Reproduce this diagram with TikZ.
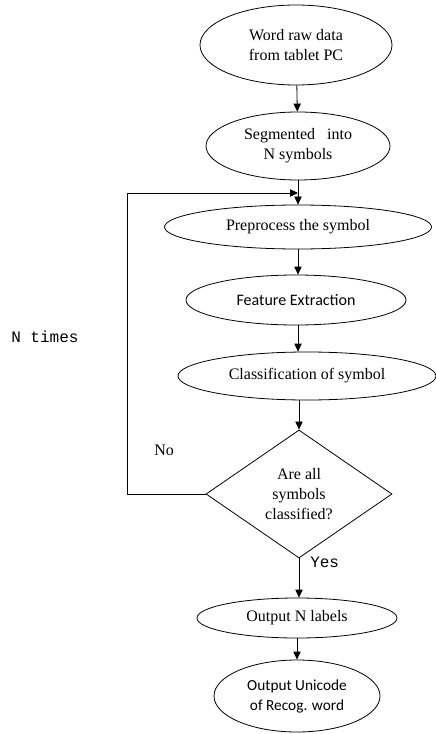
\documentclass[tikz,border=0pt]{standalone}
\usepackage{fontspec}
\setmainfont{Liberation Serif}
\newfontfamily\calfont{Carlito}
\newfontfamily\courfont{Liberation Mono}
\usetikzlibrary{shapes.geometric,arrows.meta}

\begin{document}
\begin{tikzpicture}[x=0.75pt,y=0.75pt,yscale=-1,xscale=1,
  oval/.style={draw, ellipse, inner sep=0pt, align=center, line width=0.6pt, font=\fontsize{12}{15}\selectfont},
  decision/.style={draw, diamond, inner sep=0pt, align=center, line width=0.6pt, font=\fontsize{12}{15}\selectfont},
  flow/.style={line width=0.6pt, -{Triangle[length=6pt,width=5.5pt]}},
  note/.style={inner sep=0.75pt, font=\courfont\fontsize{12}{14}\selectfont}]
%set diagram size to the 435 x 734 frame
\path[use as bounding box] (0,0) rectangle (435,734);

% Ellipse Nodes
\draw (296,45) node [oval, minimum width=192*0.75pt, minimum height=80*0.75pt] (raw) {Word raw data\\from tablet PC};
\draw (298,146) node [oval, minimum width=184*0.75pt, minimum height=68*0.75pt] (seg) {Segmented\ \ \ into\\N symbols};
\draw (298,227) node [oval, minimum width=267*0.75pt, minimum height=44*0.75pt] (pre) {Preprocess the symbol};
\draw (296,300) node [oval, minimum width=220*0.75pt, minimum height=50*0.75pt, font=\calfont\fontsize{12}{14}\selectfont] (feat) {Feature Extraction};
\draw (307,376) node [oval, minimum width=258*0.75pt, minimum height=48*0.75pt] (cls) {Classification of symbol};
% Decision Node
\draw (299,494) node [decision, minimum width=186*0.75pt, minimum height=128*0.75pt] (done) {Are all\\symbols\\classified?};
\draw (297,618) node [oval, minimum width=200*0.75pt, minimum height=40*0.75pt] (lab) {Output N labels};
\draw (297,696) node [oval, inner xsep=-8pt, minimum width=166*0.75pt, minimum height=72*0.75pt, font=\calfont\fontsize{11.5}{15}\selectfont] (uni) {Output Unicode\\of Recog. word};

% Text Node
\draw (10,330) node [anchor=north west, note] (ntimes) {N times};
\draw (153,444) node [anchor=north west, inner sep=0.75pt, font=\fontsize{12}{14}\selectfont] (no) {No};
\draw (309,556) node [anchor=north west, note] (yes) {Yes};

% Connectors
\coordinate (join) at (298,193);
\draw [flow] (raw) -- (seg);
\draw [flow] (seg) -- (pre);
\draw [flow] (pre) -- (feat.north -| pre.south);
\draw [flow] (feat.south -| pre.south) -- (cls.north -| pre.south);
\draw [flow] (cls.south -| done.north) -- (done);
\draw [flow] (done) -- (lab.north -| done.south);
\draw [flow] (lab) -- (uni);
\draw [flow] (done.west) -- (127,494) -- (127,193) -- (join);

\end{tikzpicture}
\end{document}
